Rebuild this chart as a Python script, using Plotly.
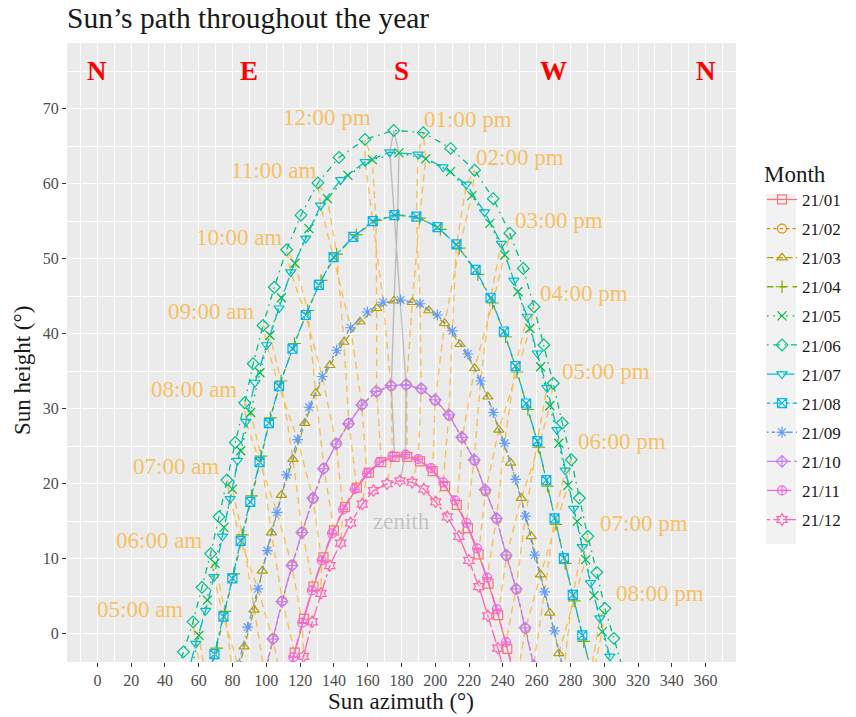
import plotly.graph_objects as go

# ---------------- data ----------------
months = ["21/01", "21/02", "21/03", "21/04", "21/05", "21/06",
          "21/07", "21/08", "21/09", "21/10", "21/11", "21/12"]

# half-hour time slots used by every month series
slot_times = [f"{hh:02d}:{mm:02d}" for hh in range(4, 22) for mm in (0, 30)][:-1]

jan_start = "07:30"
jan_az = [111.6, 116.8, 122.3, 127.9, 133.8, 140.0, 146.6, 153.5, 160.7, 168.1, 175.9,
          183.4, 191.0, 198.5, 205.8, 212.7, 219.3, 225.6, 231.5, 237.2, 242.6, 247.8]
jan_h = [-7.2, -2.5, 2.0, 6.3, 10.2, 13.8, 16.9, 19.5, 21.5, 22.9, 23.6,
         23.6, 23.0, 21.7, 19.7, 17.2, 14.1, 10.6, 6.7, 2.5, -2.0, -6.7]

feb_start = "07:00"
feb_az = [99.0, 104.1, 109.5, 115.4, 121.3, 127.8, 134.1, 141.6, 148.9, 156.8, 165.3, 174.0,
          183.0, 191.9, 200.0, 208.3, 216.0, 223.3, 229.8, 236.5, 242.2, 248.1, 253.4, 258.5]
feb_h = [-5.4, -0.6, 4.4, 9.2, 13.6, 18.0, 22.1, 25.4, 28.1, 30.6, 32.3, 33.0,
         33.2, 32.6, 31.1, 29.1, 26.1, 23.1, 19.0, 15.3, 10.4, 5.9, 0.7, -4.3]

mar_start = "06:00"
mar_az = [81.0, 86.8, 92.7, 97.6, 103.0, 108.9, 115.7, 122.8, 129.2, 137.6, 145.9, 155.4, 165.3, 175.6,
          186.4, 196.2, 205.5, 214.6, 223.3, 231.1, 237.6, 244.6, 250.9, 256.8, 262.3, 267.8, 273.1, 278.5]
mar_h = [-6.9, -1.7, 3.2, 8.4, 13.5, 18.5, 23.3, 28.1, 32.1, 35.8, 38.9, 41.6, 43.4, 44.4,
         44.2, 43.1, 41.4, 38.6, 35.4, 31.6, 27.2, 22.8, 18.1, 13.0, 7.9, 2.8, -2.6, -7.8]

apr_start = "05:00"
apr_az = [65.0, 70.6, 75.5, 80.7, 85.8, 91.2, 96.8, 102.4, 108.7, 116.7, 124.5, 132.4, 141.6, 153.2, 164.9,
          177.7, 190.7, 203.0, 214.2, 225.2, 233.9, 241.6, 248.4, 254.8, 261.2, 266.4, 271.4, 276.9, 282.2,
          287.8, 293.0]
apr_h = [-6.9, -1.9, 3.0, 8.0, 13.2, 18.4, 23.7, 28.8, 33.7, 38.7, 43.1, 47.1, 50.6, 53.2, 55.1,
         55.8, 55.4, 53.9, 51.4, 47.9, 44.1, 39.6, 34.9, 29.9, 24.9, 19.7, 14.6, 9.4, 4.4,
         -1.0, -5.8]

may_start = "04:30"
may_az = [55.5, 60.1, 65.1, 69.6, 74.9, 79.9, 84.8, 90.7, 96.2, 102.1, 108.9, 116.9, 125.2, 136.1, 148.3,
          162.7, 178.5, 194.3, 209.0, 221.6, 232.3, 241.1, 248.9, 256.0, 262.3, 267.8, 273.1, 278.5, 284.0,
          289.0, 293.9, 298.8, 304.0]
may_h = [-4.9, -0.2, 4.5, 9.4, 14.2, 19.3, 24.4, 29.5, 34.8, 39.8, 44.8, 49.4, 54.0, 58.0, 61.1,
         63.2, 64.1, 63.3, 61.6, 58.4, 54.7, 50.5, 45.6, 40.7, 35.6, 30.4, 25.4, 19.8, 15.0,
         9.9, 5.1, 0.3, -4.4]

jun_start = "04:00"
jun_az = [45.5, 50.9, 56.6, 61.9, 67.0, 72.0, 76.6, 81.6, 87.2, 92.2, 98.0, 104.7, 112.0, 120.5, 130.5,
          143.0, 158.4, 175.4, 192.9, 209.1, 223.3, 234.3, 244.1, 252.1, 258.4, 264.3, 269.8, 275.2,
          280.5, 285.3, 290.3, 295.6, 300.4, 305.7, 311.0]
jun_h = [-6.3, -2.4, 1.6, 6.2, 10.7, 15.6, 20.5, 25.5, 30.8, 36.0, 41.1, 46.2, 51.2, 55.8, 60.1,
         63.5, 65.9, 67.1, 66.8, 64.7, 61.8, 58.0, 53.4, 48.7, 43.6, 38.5, 33.4, 28.1,
         23.2, 18.1, 13.0, 8.2, 3.4, -0.6, -4.6]

jul_start = "04:30"
jul_az = [53.0, 58.2, 64.1, 69.0, 74.0, 78.6, 82.9, 87.9, 93.3, 100.2, 107.5, 114.4, 123.3, 132.1, 144.0,
          158.5, 173.1, 189.8, 204.6, 218.4, 229.2, 239.1, 246.5, 254.4, 260.4, 266.1, 272.0, 276.9,
          281.9, 287.0, 291.9, 297.4, 303.3, 308.5]
jul_h = [-5.8, -1.3, 3.1, 7.6, 13.0, 18.0, 23.1, 28.3, 33.5, 38.5, 43.4, 48.2, 52.7, 57.1, 60.5,
         62.9, 64.2, 63.9, 62.2, 59.9, 56.2, 52.0, 47.1, 42.3, 37.4, 32.8, 27.2, 21.8,
         16.7, 11.6, 6.8, 2.1, -3.0, -7.5]

aug_start = "05:00"
aug_az = [64.0, 69.3, 74.6, 79.9, 84.8, 90.5, 96.0, 101.5, 107.5, 115.5, 123.3, 131.1, 139.8, 151.5, 163.0,
          175.8, 188.8, 201.3, 212.5, 223.9, 232.7, 240.6, 247.5, 253.8, 260.4, 265.7, 270.6, 276.1,
          281.4, 287.0, 292.2]
aug_h = [-7.6, -2.7, 2.3, 7.4, 12.4, 17.6, 22.9, 28.1, 33.0, 38.0, 42.5, 46.5, 50.2, 52.9, 55.0,
         55.8, 55.6, 54.2, 51.9, 48.5, 44.8, 40.3, 35.7, 30.7, 25.7, 20.5, 15.4, 10.1,
         5.2, -0.2, -5.0]

sep_start = "06:00"
sep_az = [83.3, 88.9, 95.0, 100.6, 106.3, 112.0, 118.5, 125.3, 133.1, 141.6, 149.9, 159.8, 169.2, 179.5,
          191.0, 201.2, 210.1, 219.3, 226.8, 234.3, 241.0, 247.5, 253.4, 258.8, 264.7, 270.5, 276.0]
sep_h = [-4.2, 0.9, 6.0, 11.1, 16.2, 21.2, 25.9, 30.2, 34.3, 37.8, 40.8, 42.9, 44.2, 44.5,
         44.0, 42.5, 40.4, 37.3, 33.7, 29.5, 25.4, 20.6, 15.7, 10.5, 5.6, 0.4, -4.8]

oct_start = "06:30"
oct_az = [98.7, 103.8, 109.2, 115.1, 121.0, 127.5, 133.8, 141.3, 148.6, 156.5, 165.0, 173.7,
          182.7, 191.6, 199.9, 208.0, 215.7, 223.0, 229.5, 236.2, 241.9, 247.8, 253.1, 258.2]
oct_h = [-5.5, -0.7, 4.3, 9.1, 13.5, 18.1, 22.0, 25.3, 28.0, 30.5, 32.3, 33.1,
         33.2, 32.7, 31.2, 29.2, 26.2, 23.2, 19.2, 15.4, 10.5, 6.0, 0.8, -4.2]

nov_start = "07:00"
nov_az = [110.5, 115.9, 121.2, 126.9, 132.7, 138.9, 145.4, 152.3, 159.5, 166.9, 174.6,
          182.3, 189.9, 197.4, 204.7, 211.7, 218.4, 224.7, 230.7, 236.4, 241.9, 247.4]
nov_h = [-7.9, -3.1, 1.5, 5.8, 9.8, 13.4, 16.6, 19.3, 21.4, 22.9, 23.7,
         23.9, 23.3, 22.1, 20.2, 17.8, 14.8, 11.4, 7.5, 3.3, -1.1, -5.8]

dec_start = "07:30"
dec_az = [116.1, 122.0, 127.2, 132.3, 137.6, 144.0, 149.9, 156.8, 163.4, 171.4,
          179.1, 186.3, 193.2, 200.2, 207.1, 214.0, 219.9, 225.8, 231.1, 237.0, 242.5]
dec_h = [-7.6, -3.0, 1.6, 5.4, 9.1, 12.1, 14.8, 17.3, 19.1, 20.0,
         20.4, 20.2, 19.3, 17.6, 15.6, 13.0, 9.8, 6.3, 2.4, -1.9, -6.5]

hour_times = ["05:00", "06:00", "07:00", "08:00", "09:00", "10:00", "11:00", "12:00",
              "13:00", "14:00", "15:00", "16:00", "17:00", "18:00", "19:00", "20:00"]
hour_labels = ["05:00 am", "06:00 am", "07:00 am", "08:00 am", "09:00 am", "10:00 am", "11:00 am",
               "12:00 pm", "01:00 pm", "02:00 pm", "03:00 pm", "04:00 pm", "05:00 pm", "06:00 pm",
               "07:00 pm", "08:00 pm"]
zenith_time = "12:30"
zenith_label = "zenith"
compass_labels = ["N", "E", "S", "W", "N"]
compass_az = [0, 90, 180, 270, 360]

# ---------------- styles / positions ----------------
month_series = [(jan_start, jan_az, jan_h), (feb_start, feb_az, feb_h), (mar_start, mar_az, mar_h),
                (apr_start, apr_az, apr_h), (may_start, may_az, may_h), (jun_start, jun_az, jun_h),
                (jul_start, jul_az, jul_h), (aug_start, aug_az, aug_h), (sep_start, sep_az, sep_h),
                (oct_start, oct_az, oct_h), (nov_start, nov_az, nov_h), (dec_start, dec_az, dec_h)]

colors = ["#F8766D", "#DE8C00", "#B79F00", "#7CAE00", "#00BA38", "#00C08B",
          "#00BFC4", "#00B4F0", "#619CFF", "#C77CFF", "#F564E3", "#FF64B0"]
symbols = ["square-open", "circle-open", "triangle-up-open", "cross-thin-open", "x-thin-open",
           "diamond-open", "triangle-down-open", "square-x-open", "asterisk-open",
           "diamond-cross-open", "circle-cross-open", "hexagram-open"]
gg_linetypes = ["solid", "22", "42", "44", "13", "1343", "73", "2262", "12223242",
                "F282", "F4448444", "224282F2"]


def gg_dash(code, unit=1.6):
    if code == "solid":
        return "solid"
    return ",".join(f"{int(c, 16) * unit:.1f}px" for c in code)


# hour-label anchor positions (azimuth, height) for the text
label_pos = [(25.2, 3.2), (36.4, 12.4), (46.3, 22.3), (57.2, 32.6), (67.0, 43.0), (83.8, 52.8),
             (104.5, 61.7), (136.1, 68.8), (219.3, 68.5), (250.1, 63.5), (273.1, 55.1),
             (288.3, 45.3), (300.8, 35.0), (310.7, 25.6), (323.4, 14.7), (333.3, 5.4)]
zenith_pos = (180, 15)
compass_h = 75

FONT = "Liberation Serif"
ORANGE_LINE = "rgba(255,165,0,0.62)"
ORANGE_TEXT = "#F6C163"

W, H = 856, 717
L, R, T, B = 67, 120, 43, 55
PW, PH = W - L - R, H - T - B


def px2x(px):
    return (px - L) / PW


def py2y(py):
    return (H - B - py) / PH


# ---------------- build ----------------
series = {}
for name, (start, az, h) in zip(months, month_series):
    i0 = slot_times.index(start)
    series[name] = {slot_times[i0 + k]: (az[k], h[k]) for k in range(len(az))}

fig = go.Figure()

for t in hour_times:
    xs = [series[m].get(t, (None, None))[0] for m in months]
    ys = [series[m].get(t, (None, None))[1] for m in months]
    fig.add_trace(go.Scatter(x=xs, y=ys, mode="lines", showlegend=False, hoverinfo="skip",
                             line=dict(color=ORANGE_LINE, width=1.4, dash="7px,5px")))

zx = [series[m].get(zenith_time, (None, None))[0] for m in months]
zy = [series[m].get(zenith_time, (None, None))[1] for m in months]
fig.add_trace(go.Scatter(x=zx, y=zy, mode="lines", showlegend=False, hoverinfo="skip",
                         line=dict(color="rgba(150,150,150,0.55)", width=1.4)))

for i, (name, (start, az, h)) in enumerate(zip(months, month_series)):
    fig.add_trace(go.Scatter(
        x=az, y=h, mode="lines+markers", name=name, legendgroup=name,
        line=dict(color=colors[i], width=1.3, dash=gg_dash(gg_linetypes[i])),
        marker=dict(symbol=symbols[i], size=9, color=colors[i],
                    line=dict(color=colors[i], width=1.2)),
    ))

annotations = []
for text, (ax_, ay_) in zip(hour_labels, label_pos):
    annotations.append(dict(x=ax_, y=ay_, xref="x", yref="y", text=text, showarrow=False,
                            font=dict(family=FONT, size=23, color=ORANGE_TEXT),
                            xanchor="center", yanchor="middle"))
annotations.append(dict(x=zenith_pos[0], y=zenith_pos[1], xref="x", yref="y", text=zenith_label,
                        showarrow=False, font=dict(family=FONT, size=23, color="#C4C4C4"),
                        xanchor="center", yanchor="middle"))
for text, a in zip(compass_labels, compass_az):
    annotations.append(dict(x=a, y=compass_h, xref="x", yref="y", text=f"<b>{text}</b>",
                            showarrow=False, font=dict(family=FONT, size=27, color="#FF0000"),
                            xanchor="center", yanchor="middle"))
# axis titles
annotations.append(dict(x=px2x(401), y=py2y(701), xref="paper", yref="paper",
                        text="Sun azimuth (°)", showarrow=False,
                        font=dict(family=FONT, size=23, color="#1A1A1A"),
                        xanchor="center", yanchor="middle"))
annotations.append(dict(x=px2x(22), y=py2y(371), xref="paper", yref="paper",
                        text="Sun height (°)", showarrow=False, textangle=-90,
                        font=dict(family=FONT, size=23, color="#1A1A1A"),
                        xanchor="center", yanchor="middle"))

shapes = [dict(type="rect", xref="paper", yref="paper",
               x0=px2x(766), x1=px2x(796), y0=py2y(544), y1=py2y(194),
               fillcolor="#F2F2F2", line=dict(width=0), layer="below")]

axis_common = dict(showline=False, zeroline=False, ticks="outside", ticklen=4, tickwidth=1.1,
                   tickcolor="#333333", tickfont=dict(family=FONT, size=16, color="#4D4D4D"),
                   showgrid=True, gridcolor="white", gridwidth=1.3)

fig.update_layout(
    width=W, height=H,
    margin=dict(l=L, r=R, t=T, b=B, autoexpand=False),
    paper_bgcolor="white", plot_bgcolor="#EBEBEB",
    font=dict(family=FONT, color="#1A1A1A"),
    title=dict(text="Sun’s path throughout the year", x=L / W, xanchor="left",
               y=1 - 18 / H, yanchor="middle", yref="container",
               font=dict(family=FONT, size=29.5, color="#1A1A1A")),
    xaxis=dict(range=[-18, 378], tick0=0, dtick=20,
               minor=dict(tick0=0, dtick=10, showgrid=True, gridcolor="white", gridwidth=0.6),
               **axis_common),
    yaxis=dict(range=[-3.75, 78.75], tick0=0, dtick=10,
               minor=dict(tick0=0, dtick=5, showgrid=True, gridcolor="white", gridwidth=0.6),
               **axis_common),
    legend=dict(x=px2x(762), y=py2y(152), xanchor="left", yanchor="top",
                bgcolor="rgba(0,0,0,0)", tracegroupgap=4,
                font=dict(family=FONT, size=17, color="#1A1A1A"),
                title=dict(text="Month", font=dict(family=FONT, size=23, color="#1A1A1A"))),
    annotations=annotations,
    shapes=shapes,
)

fig.write_html("out.html")
